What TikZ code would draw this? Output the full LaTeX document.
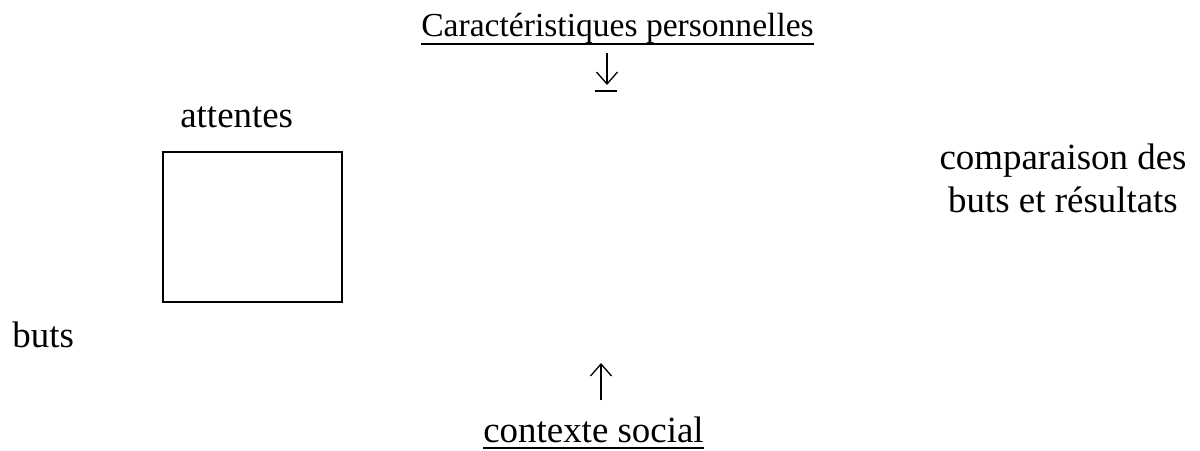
\documentclass[tikz,border=0pt]{standalone}
\usepackage{fontspec}
\setmainfont{Liberation Serif}
\usetikzlibrary{arrows.meta}

\begin{document}
\begin{tikzpicture}[txt/.style={inner sep=0pt,font=\fontsize{21}{24}\selectfont},
                    titre/.style={inner sep=0pt,font=\fontsize{19.1}{22}\selectfont},
                    boite/.style={draw=black,line width=0.8pt,rectangle,inner sep=0pt},
                    trait/.style={line width=0.85pt},
                    fleche/.style={line width=0.75pt,-{Straight Barb[length=2.4mm,width=4.2mm]}}]
\useasboundingbox (0,0) rectangle (24,9);

\node[titre,anchor=base west] (carac) at (8.42,8.26) {Caractéristiques personnelles};
\draw[trait] ([yshift=-1.4mm]carac.base west) -- ([yshift=-1.4mm]carac.base east);

\coordinate (fb1) at (12.14,7.94);
\coordinate (fb2) at (12.14,7.30);
\coordinate (sb1) at (11.90,7.18);
\coordinate (sb2) at (12.34,7.18);
\draw[fleche] (fb1) -- (fb2); % fleche vers le bas
\draw[trait] (sb1) -- (sb2);

\node[txt,anchor=base west] (att) at (3.6,6.44) {attentes};
\node[boite,minimum width=3.58cm,minimum height=3cm] (carre) at (5.05,4.46) {};

\node[txt,anchor=base,align=center] (comp) at (21.26,4.76) {comparaison des\\buts et résultats};

\node[txt,anchor=base west] (buts) at (0.24,2.06) {buts};

\coordinate (fh1) at (12.02,1.00);
\coordinate (fh2) at (12.02,1.74);
\draw[fleche] (fh1) -- (fh2); % fleche vers le haut

\node[txt,anchor=base west] (ctx) at (9.66,0.15) {contexte social};
\draw[trait] ([yshift=-1.1mm]ctx.base west) -- ([yshift=-1.1mm]ctx.base east);

\end{tikzpicture}
\end{document}
